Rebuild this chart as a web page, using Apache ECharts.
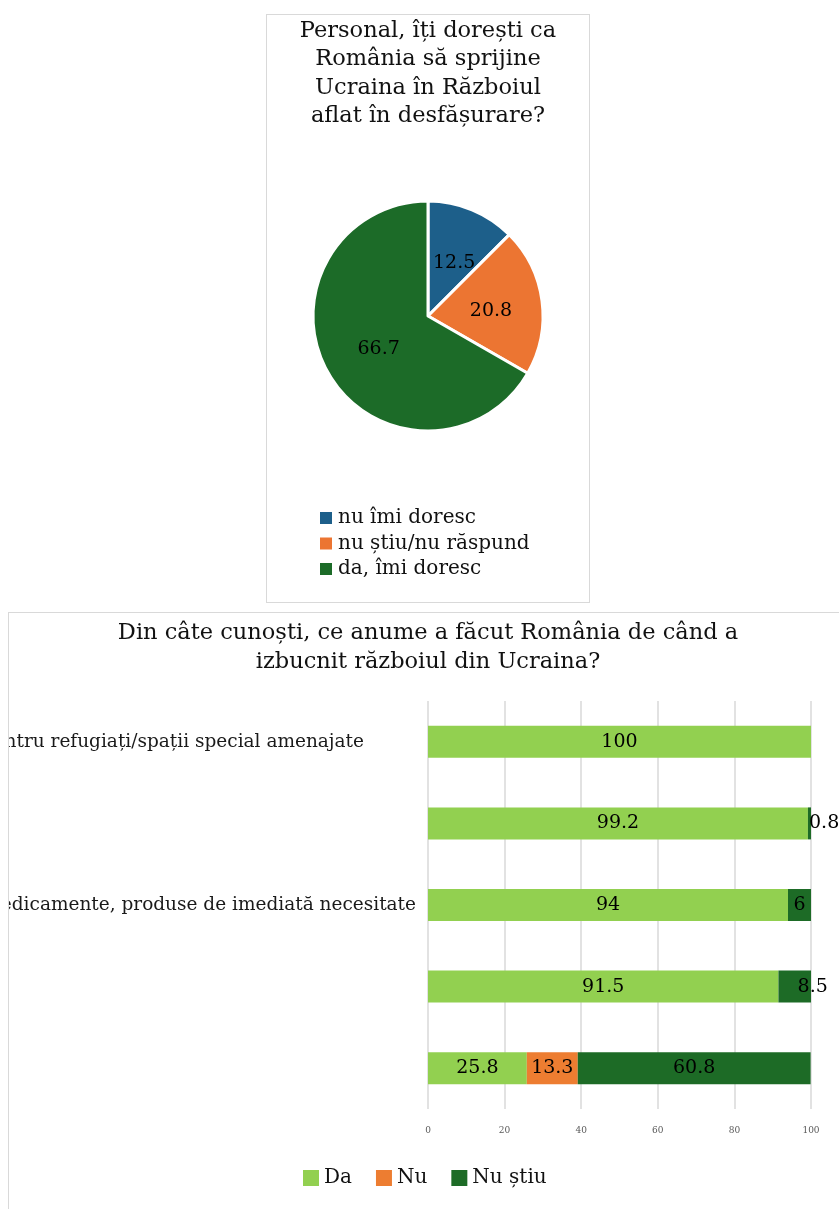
<!DOCTYPE html>
<html>
<head>
<meta charset="utf-8">
<script src="https://cdn.jsdelivr.net/npm/echarts@6/dist/echarts.min.js"></script>
<style>
  html, body { margin: 0; padding: 0; background: #fff; overflow: hidden; width: 839px; height: 1209px; }
  .box { position: absolute; border: 1px solid #d9d9d9; box-sizing: content-box; }
  #pie { left: 266px; top: 14px; width: 322px; height: 587px; }
  #bar { left: 8px; top: 612px; width: 838px; height: 600px; }
</style>
</head>
<body>
<div id="pie" class="box"></div>
<div id="bar" class="box"></div>
<script>
// ---------- data ----------
const pieTitle = 'Personal, îți dorești ca\nRomânia să sprijine\nUcraina în Războiul\naflat în desfășurare?';
const pieNames = ['nu îmi doresc', 'nu știu/nu răspund', 'da, îmi doresc'];
const pieValues = [12.5, 20.8, 66.7];

const barTitle = 'Din câte cunoști, ce anume a făcut România de când a\nizbucnit războiul din Ucraina?';
const categories = [
  'Centre de cazare pentru refugiați/spații special amenajate',
  '',
  'Donații de alimente, medicamente, produse de imediată necesitate',
  '',
  ''
];
const seriesNames = ['Da', 'Nu', 'Nu știu'];
const daValues = [100, 99.2, 94, 91.5, 25.8];
const nuValues = [0, 0, 0, 0, 13.3];
const nuStiuValues = [0, 0.8, 6, 8.5, 60.8];
const xTicks = [0, 20, 40, 60, 80, 100];

// ---------- styles ----------
const FONT = 'DejaVu Serif';
const pieColors = ['#1d5f8a', '#ec7532', '#1c6b28'];
const barColors = ['#92d050', '#ed7d31', '#1d6b26'];
const labelPad = [52, 0, 0, 0, 0]; // extra right padding per category label
const nuStiuLabelStyle = [null, { position: 'right', distance: -2 }, null, { offset: [18, 0] }, null];

// ---------- pie chart ----------
const pieChart = echarts.init(document.getElementById('pie'), null, { renderer: 'canvas' });
pieChart.setOption({
  animation: false,
  title: {
    text: pieTitle,
    left: 'center',
    top: 2,
    padding: 0,
    textStyle: { fontFamily: FONT, fontSize: 22.5, fontWeight: 'normal', color: '#111', lineHeight: 28.3 }
  },
  legend: {
    orient: 'vertical',
    left: 51,
    top: 493,
    padding: 0,
    itemWidth: 14,
    itemHeight: 14,
    itemGap: 5.5,
    icon: 'rect',
    textStyle: { fontFamily: FONT, fontSize: 20, color: '#111', lineHeight: 20 },
    data: pieNames
  },
  series: [{
    type: 'pie',
    center: [161, 301],
    radius: [0, 115],
    startAngle: 90,
    clockwise: true,
    color: pieColors,
    itemStyle: { borderColor: '#fff', borderWidth: 3 },
    label: { show: true, position: 'inside', formatter: '{c}', fontFamily: FONT, fontSize: 19, color: '#000', offset: [3, 3] },
    labelLine: { show: false },
    emphasis: { disabled: true },
    data: pieNames.map((n, i) => ({ name: n, value: pieValues[i] }))
  }]
});

// ---------- bar chart ----------
const barChart = echarts.init(document.getElementById('bar'), null, { renderer: 'canvas' });
const labelFmt = p => (p.value ? String(p.value) : '');
function mkSeries(name, values, color, overrides) {
  return {
    name: name,
    type: 'bar',
    stack: 'total',
    barWidth: 32,
    itemStyle: { color: color },
    emphasis: { disabled: true },
    label: { show: true, position: 'inside', fontFamily: FONT, fontSize: 19, color: '#000', formatter: labelFmt },
    data: values.map((v, i) => (overrides && overrides[i]) ? { value: v, label: overrides[i] } : v)
  };
}
barChart.setOption({
  animation: false,
  title: {
    text: barTitle,
    left: 'center',
    top: 5.5,
    padding: 0,
    textStyle: { fontFamily: FONT, fontSize: 22.5, fontWeight: 'normal', color: '#111', lineHeight: 29 }
  },
  legend: {
    left: 294,
    top: 555,
    padding: 0,
    itemWidth: 16,
    itemHeight: 16,
    itemGap: 24,
    icon: 'rect',
    textStyle: { fontFamily: FONT, fontSize: 20, color: '#111', lineHeight: 20 },
    data: seriesNames
  },
  grid: { left: 419, top: 88, width: 383, height: 408, containLabel: false, outerBoundsMode: 'none' },
  xAxis: {
    type: 'value',
    min: xTicks[0],
    max: xTicks[xTicks.length - 1],
    interval: xTicks[1] - xTicks[0],
    axisLine: { show: false },
    axisTick: { show: false },
    splitLine: { show: true, lineStyle: { color: '#d9d9d9', width: 1.5 } },
    axisLabel: { fontFamily: FONT, fontSize: 9, color: '#595959', margin: 17 }
  },
  yAxis: {
    type: 'category',
    inverse: true,
    data: categories,
    axisLine: { show: false },
    axisTick: { show: false },
    axisLabel: {
      interval: 0,
      margin: 4,
      formatter: (v, i) => v ? '{p' + i + '|' + v + '}' : '',
      rich: Object.fromEntries(labelPad.map((p, i) => ['p' + i, { fontFamily: FONT, fontSize: 18.5, color: '#1a1a1a', padding: [0, p + 8, 0, 0] }]))
    }
  },
  series: [
    mkSeries(seriesNames[0], daValues, barColors[0]),
    mkSeries(seriesNames[1], nuValues, barColors[1]),
    mkSeries(seriesNames[2], nuStiuValues, barColors[2], nuStiuLabelStyle)
  ]
});
</script>
</body>
</html>
